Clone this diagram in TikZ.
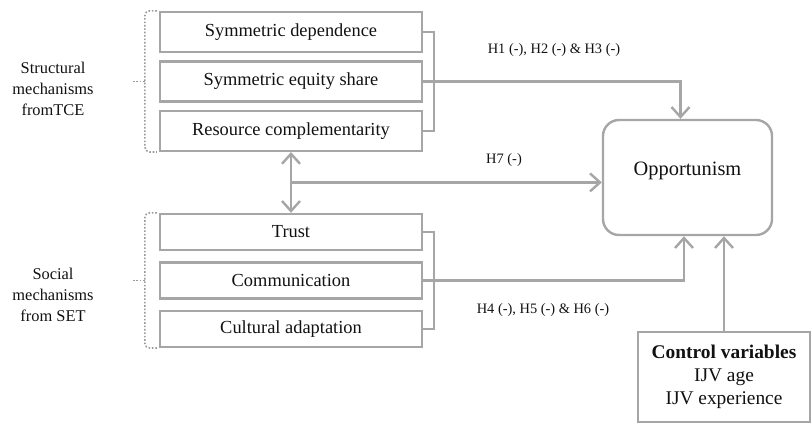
\documentclass[tikz,border=0pt]{standalone}
\usepackage{fontspec}
\setmainfont{Liberation Serif}
\usepackage{xcolor}
\usepackage{tikz}
\usetikzlibrary{arrows.meta,positioning,calc}
\definecolor{Frame}{HTML}{A6A6A6}
\definecolor{Dots}{HTML}{9A9A9A}
\definecolor{Ink}{HTML}{111111}

\begin{document}
\begin{tikzpicture}[x=0.5pt,y=-0.5pt,>={Straight Barb[length=5pt,width=9pt]}]
\tikzset{mechbox/.style={draw=Frame,line width=1.2pt,minimum width=131pt,minimum height=20pt,inner sep=0pt,text=Ink,font=\fontsize{9.2}{11}\selectfont},
 link/.style={draw=Frame,line width=1.2pt}, arrow/.style={->,link}, hyp/.style={text=Ink,font=\fontsize{7.2}{9}\selectfont},
 group/.style={align=center,text=Ink,font=\fontsize{8.2}{10.5}\selectfont},
 dotline/.style={Dots,line width=0.8pt,dash pattern=on 0.8pt off 0.9pt,rounded corners=2.5pt}}
\useasboundingbox (0,0) rectangle (812,423);
% structural mechanisms (TCE)
\node[mechbox] (sd) at (291,32) {Symmetric dependence};
\node[mechbox,below=3.5pt of sd] (ses) {Symmetric equity share};
\node[mechbox,below=3.5pt of ses] (rc) {Resource complementarity};
% social mechanisms (SET)
\node[mechbox,minimum height=18pt] (tr) at (291,232) {Trust};
\node[mechbox,minimum height=18pt,below=5pt of tr] (com) {Communication};
\node[mechbox,minimum height=18pt,below=5pt of com] (cul) {Cultural adaptation};
% outcome and controls
\node[draw=Frame,line width=1.2pt,rounded corners=8pt,minimum width=84.5pt,minimum height=57.5pt,text depth=9pt,text=Ink,font=\fontsize{10.2}{12}\selectfont] (opp) at (687.5,177.5) {Opportunism};
\node[draw=Frame,line width=1.2pt,minimum width=86pt,minimum height=45pt,align=center,text=Ink,font=\fontsize{9.7}{11.5}\selectfont] (ctrl) at (724,377) {\textbf{Control variables}\\IJV age\\IJV experience};
% group labels and braces
\node[group] (stg) at (53,89) {Structural\\mechanisms\\fromTCE};
\node[group] (sog) at (53,295) {Social\\mechanisms\\from SET};
\coordinate (sb) at ($(sd.north west)!0.5!(rc.south west)$);
\coordinate (cb) at ($(tr.north west)!0.5!(cul.south west)$);
\draw[dotline] ([xshift=-1pt]sd.north west) -| ([xshift=-7pt]sb) |- ([xshift=-1pt]rc.south west);
\draw[dotline] ([xshift=-7pt]sb) -- ++(-12,0);
\draw[dotline] ([xshift=-1pt]tr.north west) -| ([xshift=-7pt]cb) |- ([xshift=-1pt]cul.south west);
\draw[dotline] ([xshift=-7pt]cb) -- ++(-12,0);
% brackets and paths
\draw[link] (sd.east) -- ++(11,0) |- (rc.east);
\draw[arrow] (ses.east) -| ([xshift=-3.5pt]opp.north);
\draw[link] (tr.east) -- ++(11,0) |- (cul.east);
\draw[arrow] (com.east) -| ([xshift=-1.75pt]opp.south);
\draw[arrow,<->] (rc.south) -- (tr.north);
\coordinate (mid) at ($(rc.south)!0.5!(tr.north)$);
\draw[arrow] (mid) -- (mid -| opp.west);
\draw[arrow] (ctrl.north) -- (ctrl.north |- opp.south);
% hypotheses
\node[hyp] (h13) at (554,50) {H1 (-), H2 (-) \& H3 (-)};
\node[hyp] (h7) at (504,160) {H7 (-)};
\node[hyp] (h46) at (543,310) {H4 (-), H5 (-) \& H6 (-)};
\end{tikzpicture}
\end{document}
